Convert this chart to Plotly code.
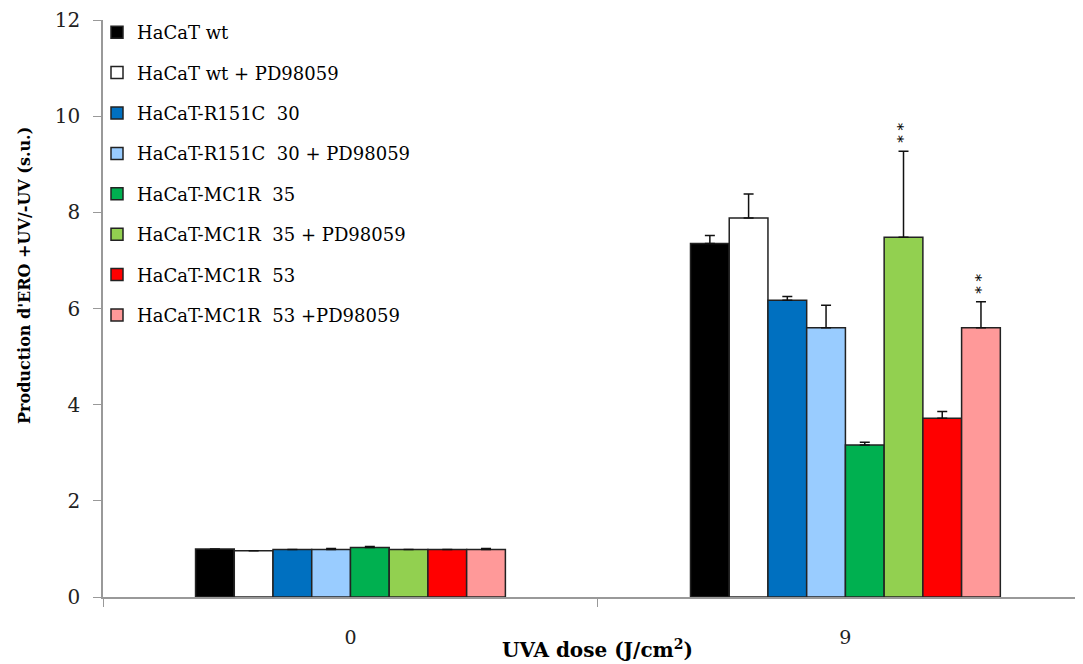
import plotly.graph_objects as go

doses = ["0", "9"]
series_names = [
    "HaCaT wt",
    "HaCaT wt + PD98059",
    "HaCaT-R151C  30",
    "HaCaT-R151C  30 + PD98059",
    "HaCaT-MC1R  35",
    "HaCaT-MC1R  35 + PD98059",
    "HaCaT-MC1R  53",
    "HaCaT-MC1R  53 +PD98059",
]
values = [
    [1.00, 7.35],
    [0.96, 7.88],
    [0.99, 6.17],
    [0.99, 5.60],
    [1.03, 3.16],
    [0.99, 7.48],
    [0.99, 3.72],
    [0.99, 5.60],
]
errors = [
    [0.00, 0.17],
    [0.00, 0.50],
    [0.00, 0.08],
    [0.02, 0.47],
    [0.02, 0.06],
    [0.00, 1.79],
    [0.00, 0.14],
    [0.02, 0.54],
]
colors = ["#000000", "#FFFFFF", "#0070C0", "#99CCFF", "#00B050", "#92D050", "#FF0000", "#FF9999"]
significance = ["", "", "", "", "", "**", "", "**"]
x_title = "<b>UVA dose (J/cm<sup>2</sup>)</b>"
y_title = "<b>Production d'ERO +UV/-UV (s.u.)</b>"

FONT = "DejaVu Serif"
# the html page adds an 8px body margin, so the figure is drawn 8px smaller
W, H = 1075, 656
ML, MR, MT, MB = 95, 1, 12, 67
plot_w = W - ML - MR
plot_h = H - MT - MB
# the reference's x axis is cut at the right edge: last category boundary is off-chart
x_range = [-0.5, 1.478]
cat_px = plot_w / (x_range[1] - x_range[0])

fig = go.Figure()
for i, name in enumerate(series_names):
    fig.add_trace(go.Bar(
        x=doses, y=values[i], name=name, legendgroup=f"g{i}",
        marker=dict(color=colors[i], line=dict(color="#222222", width=1.5)),
        error_y=dict(type="data", symmetric=False, array=errors[i],
                     arrayminus=[0] * len(doses), color="#111111",
                     thickness=1.5, width=5),
    ))

# significance markers (category index used for x)
n = len(series_names)
bargap = 0.374
bar_px = cat_px * (1 - bargap) / n
for i, sig in enumerate(significance):
    if not sig:
        continue
    j = 1
    top = values[i][j] + errors[i][j]
    fig.add_annotation(
        x=j, y=top, xref="x", yref="y", text=" ".join(sig), textangle=-90,
        showarrow=False, yshift=18,
        xshift=(i - (n - 1) / 2) * bar_px,
        font=dict(family=FONT, size=15, color="#000000"),
    )

# x-axis title (level with the tick labels, as in the reference)
fig.add_annotation(
    x=(589 - ML) / plot_w, y=-(641 - MT - plot_h) / plot_h, xref="paper", yref="paper",
    text=x_title, showarrow=False, yanchor="middle",
    font=dict(family=FONT, size=20, color="#000000"),
)
# y-axis title
fig.add_annotation(
    x=-(ML - 16) / plot_w, y=1 - (268 - MT) / plot_h, xref="paper", yref="paper",
    text=y_title, showarrow=False, textangle=-90,
    xanchor="center", yanchor="middle",
    font=dict(family=FONT, size=16, color="#000000"),
)

fig.update_layout(
    width=W, height=H,
    margin=dict(l=ML, r=MR, t=MT, b=MB, autoexpand=False),
    paper_bgcolor="white", plot_bgcolor="white",
    barmode="group", bargap=bargap, bargroupgap=0,
    font=dict(family=FONT, color="#222222"),
    legend=dict(x=-6 / plot_w, y=1 + 6 / plot_h, xanchor="left", yanchor="top",
                font=dict(family=FONT, size=18, color="#000000"),
                tracegroupgap=14, bgcolor="rgba(0,0,0,0)"),
    showlegend=True,
)
fig.update_xaxes(
    type="category", range=x_range,
    showline=True, linecolor="#999999", linewidth=1.5,
    ticks="outside", tickson="boundaries", ticklen=8, tickcolor="#999999",
    tickfont=dict(family=FONT, size=19, color="#222222"),
    ticklabelstandoff=22,
    showgrid=False, automargin=False,
)
fig.update_yaxes(
    range=[0, 12], dtick=2, showline=True, linecolor="#999999", linewidth=1.5,
    ticks="outside", ticklen=8, tickcolor="#999999",
    tickfont=dict(family=FONT, size=20, color="#222222"),
    ticklabelstandoff=9,
    showgrid=False, zeroline=False, automargin=False,
)

fig.write_html("out.html")
